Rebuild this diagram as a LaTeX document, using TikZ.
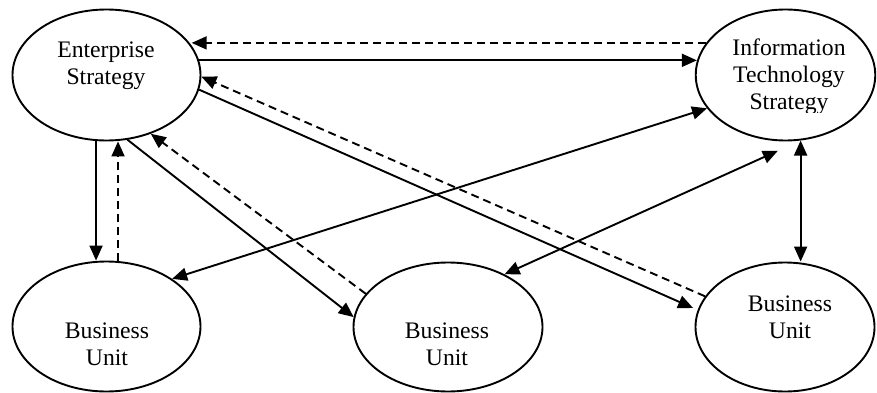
\documentclass[tikz,border=0pt]{standalone}
\usepackage{fontspec}
\setmainfont{Liberation Serif}
\usetikzlibrary{arrows.meta,shapes.geometric}
\begin{document}
\begin{tikzpicture}[x=1pt,y=-1pt,
  oval/.style={draw, ellipse, line width=1.9pt, inner sep=0pt},
  lbl/.style={align=center, inner sep=0pt, anchor=base, font=\fontsize{23.7}{27}\selectfont},
  conn/.style={line width=1.9pt, -{Triangle[length=15pt,width=13pt]}},
  both/.style={line width=1.9pt, {Triangle[length=15pt,width=13pt]}-{Triangle[length=15pt,width=13pt]}},
  dsh/.style={conn, dash pattern=on 8pt off 5pt}]
\useasboundingbox (0,0) rectangle (877,393);
\node[oval, minimum width=188pt, minimum height=131pt] (es) at (106.5,75) {};
\node[oval, minimum width=179.5pt, minimum height=131pt] (it) at (785.5,75) {};
\node[oval, minimum width=188pt, minimum height=130pt] (bu1) at (106.5,326.5) {};
\node[oval, minimum width=189pt, minimum height=129pt] (bu2) at (448,327) {};
\node[oval, minimum width=179pt, minimum height=129pt] (bu3) at (785,327) {};
\node[lbl] (tes) at (106,85) {Enterprise\\Strategy};
\begin{scope}
\clip (690,0) rectangle (877,113);
\node[lbl] (tit) at (789,110) {Information\\Technology\\Strategy};
\end{scope}
\node[lbl] (tb1) at (107,365) {Business\\Unit};
\node[lbl] (tb2) at (447,365) {Business\\Unit};
\node[lbl] (tb3) at (790,338) {Business\\Unit};
\draw[dsh] (it.158) -- (it.158 -| es.19);
\draw[conn] (es.9) -- (es.9 -| it.171);
\draw[dsh] (bu3.159) -- (es.-1);
\draw[conn, shorten >=5pt] (es.-9) -- (bu3.169);
\draw[conn] (es.-99) -- (es.-99 |- bu1.north);
\draw[dsh] (bu1.80) -- (bu1.80 |- es.south);
\draw[conn] (es.-72) -- (bu2.174);
\draw[dsh] (bu2.158) -- (es.-53);
\draw[both] (bu1.36) -- (it.-157);
\draw[both, shorten >=25pt] (bu2.43) -- (it.-77);
\draw[both] (it.-77) -- (it.-77 |- bu3.north);
\end{tikzpicture}
\end{document}
